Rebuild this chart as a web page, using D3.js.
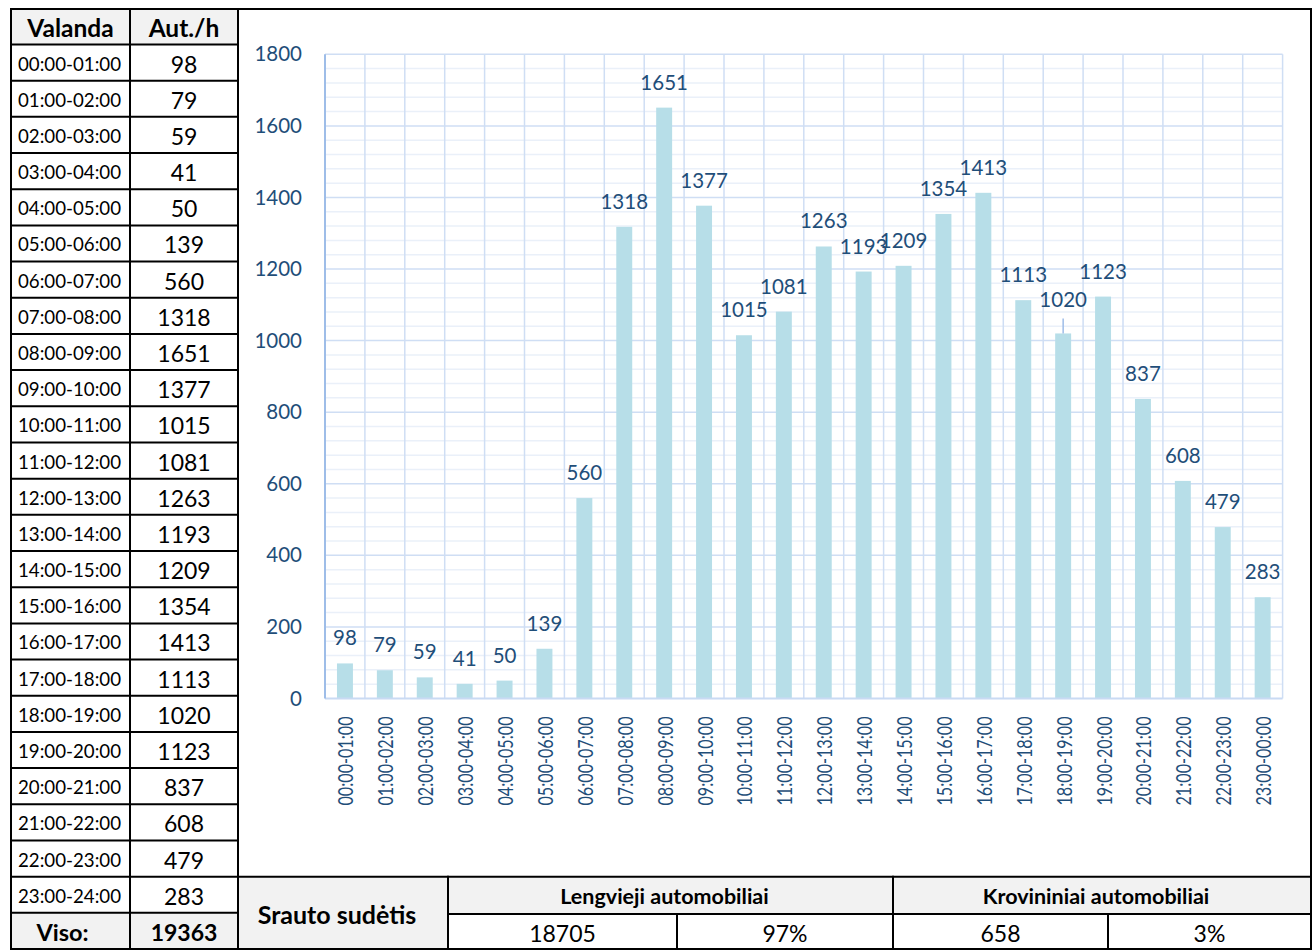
<!DOCTYPE html>
<html><head><meta charset="utf-8">
<script src="https://cdn.jsdelivr.net/npm/d3@7/dist/d3.min.js"></script>
<style>
body{margin:0;background:#fff}
svg{display:block}
text{font-family:Lato,"Noto Sans",sans-serif}
</style>
</head><body>
<svg id="c" width="1314" height="951"></svg>
<script>
// ---------- DATA ----------
const tableHeader = ["Valanda", "Aut./h"];
const tableHours = ["00:00-01:00","01:00-02:00","02:00-03:00","03:00-04:00","04:00-05:00","05:00-06:00",
  "06:00-07:00","07:00-08:00","08:00-09:00","09:00-10:00","10:00-11:00","11:00-12:00",
  "12:00-13:00","13:00-14:00","14:00-15:00","15:00-16:00","16:00-17:00","17:00-18:00",
  "18:00-19:00","19:00-20:00","20:00-21:00","21:00-22:00","22:00-23:00","23:00-24:00"];
const categories = ["00:00-01:00","01:00-02:00","02:00-03:00","03:00-04:00","04:00-05:00","05:00-06:00",
  "06:00-07:00","07:00-08:00","08:00-09:00","09:00-10:00","10:00-11:00","11:00-12:00",
  "12:00-13:00","13:00-14:00","14:00-15:00","15:00-16:00","16:00-17:00","17:00-18:00",
  "18:00-19:00","19:00-20:00","20:00-21:00","21:00-22:00","22:00-23:00","23:00-00:00"];
const values = [98,79,59,41,50,139,560,1318,1651,1377,1015,1081,1263,1193,1209,1354,1413,1113,1020,1123,837,608,479,283];
const yTicks = [0,200,400,600,800,1000,1200,1400,1600,1800];
const totalLabel = "Viso:";
const totalValue = 19363;
const compTitle = "Srauto sudėtis";
const compHeaders = ["Lengvieji automobiliai", "Krovininiai automobiliai"];
const compCounts = [18705, 658];
const compShares = ["97%", "3%"];

// ---------- LAYOUT ----------
const svg = d3.select("#c");
const L = 11, T = 9, R = 1311, B = 949;
const c1 = 130, c2 = 238;
const headBottom = 44.5;
const rowH = (B - headBottom) / 25;
const chartBottom = headBottom + 23 * rowH; // top of composition table
const compHeadBottom = 914;
const compCols = [c2, 448, 677, 893, 1108, R];
const grey = "#f2f2f2", ink = "#000", blueText = "#1f4e79";

// grey cells
svg.append("rect").attr("x", L).attr("y", T).attr("width", c2 - L).attr("height", headBottom - T).attr("fill", grey);
svg.append("rect").attr("x", L).attr("y", headBottom + 24 * rowH).attr("width", c2 - L).attr("height", rowH).attr("fill", grey);
svg.append("rect").attr("x", c2).attr("y", chartBottom).attr("width", compCols[1] - c2).attr("height", B - chartBottom).attr("fill", grey);
svg.append("rect").attr("x", compCols[1]).attr("y", chartBottom).attr("width", R - compCols[1]).attr("height", compHeadBottom - chartBottom).attr("fill", grey);

// ---------- CHART ----------
const x = d3.scaleBand().domain(categories).range([325, 1282.6]).paddingInner(0.6).paddingOuter(0.3);
const y = d3.scaleLinear().domain([0, 1800]).range([698.5, 54.3]);
const step = x.step();
const plot = svg.append("g");

// minor gridlines
const minor = d3.range(0, 1801, 40).filter(v => v % 200 !== 0);
plot.selectAll("line.minor").data(minor).enter().append("line")
  .attr("x1", x.range()[0]).attr("x2", x.range()[1])
  .attr("y1", d => y(d)).attr("y2", d => y(d))
  .attr("stroke", "#eaf0f9").attr("stroke-width", 1.5);
// major gridlines
plot.selectAll("line.major").data(yTicks.filter(v => v > 0)).enter().append("line")
  .attr("x1", x.range()[0]).attr("x2", x.range()[1])
  .attr("y1", d => y(d)).attr("y2", d => y(d))
  .attr("stroke", "#cfdef4").attr("stroke-width", 1.5);
// vertical gridlines at category boundaries
const bounds = categories.map(c => x(c) + x.bandwidth() / 2 - step / 2).concat([x.range()[1]]);
plot.selectAll("line.vgrid").data(bounds.slice(1)).enter().append("line")
  .attr("x1", d => d).attr("x2", d => d)
  .attr("y1", y(1800)).attr("y2", y(0))
  .attr("stroke", "#cfdef4").attr("stroke-width", 1.5);

// bars
plot.selectAll("rect.bar").data(values).enter().append("rect")
  .attr("x", (d, i) => x(categories[i]))
  .attr("width", x.bandwidth())
  .attr("y", d => y(d))
  .attr("height", d => y(0) - y(d))
  .attr("fill", "#b7dee8");

// axis lines
plot.append("line").attr("x1", x.range()[0]).attr("x2", x.range()[1]).attr("y1", y(0)).attr("y2", y(0))
  .attr("stroke", "#c9daf3").attr("stroke-width", 2);
plot.append("line").attr("x1", x.range()[0]).attr("x2", x.range()[0]).attr("y1", y(1800)).attr("y2", y(0))
  .attr("stroke", "#9ebde8").attr("stroke-width", 2);

// y axis labels
const yAxis = d3.axisLeft(y).tickValues(yTicks).tickSize(0).tickPadding(0).tickFormat(d3.format("d"));
const yg = svg.append("g").attr("transform", "translate(302,0)").call(yAxis);
yg.select(".domain").remove();
yg.selectAll("text").attr("fill", blueText).style("font-size", "20.5px").style("font-family", "Lato");

// x axis labels
const xAxis = d3.axisBottom(x).tickSize(0).tickPadding(0);
const xg = svg.append("g").call(xAxis);
xg.select(".domain").remove();
xg.selectAll(".tick").attr("transform", d => `translate(${x(d) + x.bandwidth() / 2},716.5)`);
xg.selectAll("text")
  .attr("y", 0).attr("dy", null)
  .attr("transform", "rotate(-90)")
  .attr("text-anchor", "end")
  .attr("dominant-baseline", "central")
  .attr("fill", blueText)
  .attr("textLength", 89).attr("lengthAdjust", "spacingAndGlyphs")
  .style("font-size", "21px").style("font-family", "Lato");

// data labels
const leader = {18: 8}; // label lifted with leader line
const lab = svg.append("g");
values.forEach((v, i) => {
  const cx = x(categories[i]) + x.bandwidth() / 2;
  const lift = leader[i] || 0;
  lab.append("text").attr("x", cx).attr("y", y(v) - 18 - lift)
    .attr("text-anchor", "middle").attr("fill", blueText).style("font-size", "20.5px").text(v);
  if (lift) {
    lab.append("line").attr("x1", cx).attr("x2", cx).attr("y1", y(v) - 15).attr("y2", y(v))
      .attr("stroke", "#9ebde8").attr("stroke-width", 1.5);
  }
});

// ---------- LEFT TABLE ----------
const tbl = svg.append("g");
tbl.selectAll("text.h").data(tableHeader).enter().append("text")
  .attr("x", (d, i) => i === 0 ? (L + c1) / 2 : (c1 + c2) / 2)
  .attr("y", (T + headBottom) / 2 + 1).attr("dominant-baseline", "central").attr("text-anchor", "middle")
  .attr("fill", ink).style("font-size", "24.5px").style("font-weight", "bold").text(d => d);
tableHours.forEach((h, i) => {
  const cy = headBottom + (i + 0.5) * rowH + 1;
  tbl.append("text").attr("x", L + 7).attr("y", cy).attr("dominant-baseline", "central")
    .attr("fill", ink).style("font-size", "18.7px").text(h);
  tbl.append("text").attr("x", (c1 + c2) / 2).attr("y", cy).attr("dominant-baseline", "central")
    .attr("text-anchor", "middle").attr("fill", ink).style("font-size", "23px").text(values[i]);
});
const vy = headBottom + 24.5 * rowH + 1;
tbl.append("text").attr("x", (L + c1) / 2 - 8).attr("y", vy).attr("dominant-baseline", "central").attr("text-anchor", "middle")
  .style("font-size", "23.5px").style("font-weight", "bold").text(totalLabel);
tbl.append("text").attr("x", (c1 + c2) / 2).attr("y", vy).attr("dominant-baseline", "central").attr("text-anchor", "middle")
  .style("font-size", "23px").style("font-weight", "bold").text(totalValue);

// ---------- COMPOSITION TABLE ----------
const comp = svg.append("g");
comp.append("text").attr("x", (c2 + compCols[1]) / 2 - 6).attr("y", (chartBottom + B) / 2 + 1)
  .attr("dominant-baseline", "central").attr("text-anchor", "middle")
  .style("font-size", "25px").style("font-weight", "bold").text(compTitle);
compHeaders.forEach((h, i) => {
  comp.append("text").attr("x", (compCols[1 + 2 * i] + compCols[3 + 2 * i]) / 2 - 6)
    .attr("y", (chartBottom + compHeadBottom) / 2 + 1).attr("dominant-baseline", "central").attr("text-anchor", "middle")
    .style("font-size", "21.5px").style("font-weight", "bold").text(h);
});
const compVals = [compCounts[0], compShares[0], compCounts[1], compShares[1]];
compVals.forEach((v, i) => {
  comp.append("text").attr("x", (compCols[1 + i] + compCols[2 + i]) / 2)
    .attr("y", (compHeadBottom + B) / 2 + 1).attr("dominant-baseline", "central").attr("text-anchor", "middle")
    .style("font-size", "23px").text(v);
});

// ---------- BORDERS ----------
const lines = [];
lines.push([L, T, R, T], [L, B, R, B], [L, T, L, B], [R, T, R, B]);
lines.push([c1, T, c1, B], [c2, T, c2, B]);
lines.push([L, headBottom, c2, headBottom]);
for (let i = 1; i <= 24; i++) lines.push([L, headBottom + i * rowH, c2, headBottom + i * rowH]);
lines.push([c2, chartBottom, R, chartBottom]);
lines.push([compCols[1], compHeadBottom, R, compHeadBottom]);
lines.push([compCols[1], chartBottom, compCols[1], B]);
lines.push([compCols[3], chartBottom, compCols[3], B]);
lines.push([compCols[2], compHeadBottom, compCols[2], B]);
lines.push([compCols[4], compHeadBottom, compCols[4], B]);
svg.append("g").selectAll("line").data(lines).enter().append("line")
  .attr("x1", d => d[0]).attr("y1", d => d[1]).attr("x2", d => d[2]).attr("y2", d => d[3])
  .attr("stroke", ink).attr("stroke-width", 2).attr("stroke-linecap", "square");
</script>
</body></html>
